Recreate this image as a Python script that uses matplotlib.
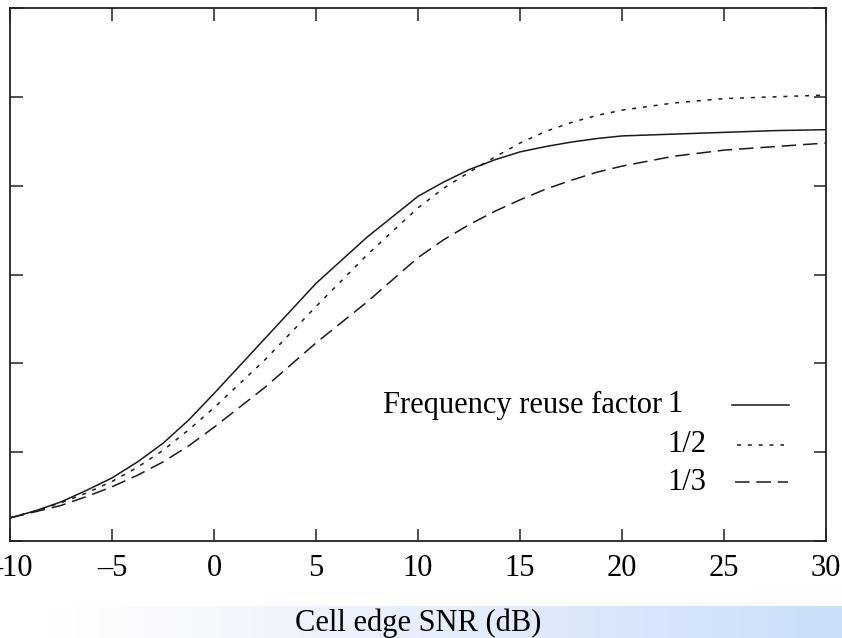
import numpy as np
import matplotlib
matplotlib.use("Agg")
from matplotlib import pyplot as plt
from matplotlib.lines import Line2D
from matplotlib.colors import LinearSegmentedColormap

snr = [-10, -8.75, -7.5, -6.25, -5, -3.75, -2.5, -1.25, 0, 2.5, 5, 7.5, 10,
       11.25, 12.5, 13.75, 15, 16.25, 17.5, 18.75, 20, 22.5, 25, 27.5, 30]
reuse_1 = [0.26, 0.34, 0.44, 0.57, 0.71, 0.89, 1.10, 1.36, 1.66, 2.28, 2.90, 3.42, 3.88,
           4.04, 4.18, 4.29, 4.38, 4.44, 4.49, 4.53, 4.56, 4.58, 4.60, 4.62, 4.63]
reuse_half = [0.26, 0.34, 0.43, 0.54, 0.67, 0.83, 1.02, 1.25, 1.50, 2.04, 2.64, 3.22, 3.75,
              3.97, 4.15, 4.32, 4.48, 4.61, 4.71, 4.79, 4.85, 4.93, 4.98, 5.00, 5.02]
reuse_third = [0.26, 0.33, 0.40, 0.50, 0.61, 0.74, 0.89, 1.07, 1.28, 1.73, 2.23, 2.69, 3.19,
               3.39, 3.56, 3.71, 3.84, 3.96, 4.06, 4.15, 4.22, 4.33, 4.40, 4.44, 4.48]

xticks = [-10, -5, 0, 5, 10, 15, 20, 25, 30]
xticklabels = ["\u201310", "\u20135", "0", "5", "10", "15", "20", "25", "30"]
legend_prefix = "Frequency reuse factor"
legend_labels = ["1", "1/2", "1/3"]

plt.rcParams["font.family"] = ["Liberation Serif", "DejaVu Serif"]
W, H = 842, 638
fig = plt.figure(figsize=(W / 100, H / 100), dpi=100)

# light blue band behind the axis title
band = fig.add_axes([0, 0, 1, 32 / H], zorder=0)
cmap = LinearSegmentedColormap.from_list(
    "band", [(0, "#ffffff"), (0.06, "#ffffff"), (0.5, "#e7effc"), (1, "#cadef9")])
band.imshow(np.linspace(0, 1, 256)[None, :], aspect="auto", cmap=cmap, extent=[0, 1, 0, 1])
band.set_axis_off()

ax = fig.add_axes([10 / W, 1 - 541 / H, 816 / W, 533 / H], zorder=1)
ax.patch.set_alpha(0)
lw = 1.1
col = "#1a1a1a"
styles = ["-", (0, (2.6, 4.5)), (0, (9.5, 4.5))]
for ys, ls in zip([reuse_1, reuse_half, reuse_third], styles):
    ax.plot(snr, ys, color=col, lw=lw, linestyle=ls)

ax.set_xlim(-10, 30)
ax.set_ylim(0, 6)
ax.set_xticks(xticks)
ax.set_xticklabels(xticklabels)
ax.set_yticks(range(0, 7))
ax.set_yticklabels([])
ax.tick_params(direction="in", length=9, width=1.1, top=True, right=True,
               labelsize=22, pad=9, color="#222222")
for s in ax.spines.values():
    s.set_linewidth(1.3)
    s.set_color("#222222")
ax.set_xlabel("Cell edge SNR (dB)", fontsize=22, labelpad=19)

# legend by hand: prefix, then a left aligned column of factors, then the sample line
def axx(px):
    return (px - 10) / 816

def axy(px):
    return (541 - px) / 533

rows_y = [405, 445, 482]
line_spans = [(732, 789), (737, 784), (735, 788)]
ax.text(axx(662), axy(rows_y[0]), legend_prefix, transform=ax.transAxes,
        fontsize=22, ha="right", va="center")
for lab, ls, yp, (x0, x1) in zip(legend_labels, styles, rows_y, line_spans):
    ax.text(axx(667), axy(yp), lab, transform=ax.transAxes, fontsize=22,
            ha="left", va="center")
    ax.add_line(Line2D([axx(x0), axx(x1)], [axy(yp), axy(yp)],
                       transform=ax.transAxes, color=col, lw=lw, linestyle=ls))

fig.savefig("out.png", dpi=100)
